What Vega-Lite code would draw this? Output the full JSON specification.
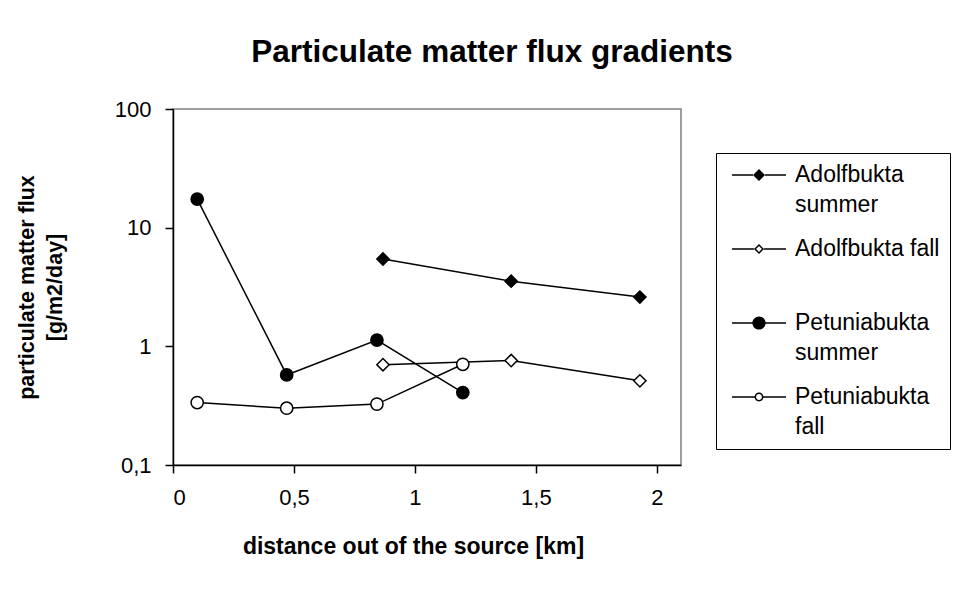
{
  "$schema": "https://vega.github.io/schema/vega-lite/v6.json",
  "width": 508,
  "height": 356,
  "autosize": {"type": "none"},
  "padding": {"left": 173, "top": 109, "right": 276, "bottom": 124},
  "background": "white",
  "title": {
    "text": "Particulate matter flux gradients",
    "fontSize": 31.5,
    "fontWeight": "bold",
    "font": "Liberation Sans",
    "color": "black",
    "anchor": "middle",
    "baseline": "alphabetic",
    "offset": 5,
    "dx": 65
  },
  "config": {
    "font": "Liberation Sans",
    "view": {"stroke": "#808080", "strokeWidth": 1.5},
    "style": {"guide-label": {"lineHeight": 30}},
    "axis": {
      "grid": false,
      "domainColor": "black",
      "domainWidth": 1.5,
      "tickColor": "black",
      "tickWidth": 1.5,
      "tickSize": 8,
      "labelFont": "Liberation Sans",
      "labelFontSize": 22,
      "labelColor": "black",
      "titleFont": "Liberation Sans",
      "titleFontWeight": "bold",
      "titleColor": "black"
    }
  },
  "data": {
    "values": [
      {"series": "Adolfbukta summer", "distance": 0.868, "flux": 5.45},
      {"series": "Adolfbukta summer", "distance": 1.398, "flux": 3.54},
      {"series": "Adolfbukta summer", "distance": 1.93, "flux": 2.6},
      {"series": "Adolfbukta fall", "distance": 0.868, "flux": 0.70},
      {"series": "Adolfbukta fall", "distance": 1.398, "flux": 0.759},
      {"series": "Adolfbukta fall", "distance": 1.93, "flux": 0.512},
      {"series": "Petuniabukta summer", "distance": 0.1, "flux": 17.4},
      {"series": "Petuniabukta summer", "distance": 0.47, "flux": 0.574},
      {"series": "Petuniabukta summer", "distance": 0.843, "flux": 1.13},
      {"series": "Petuniabukta summer", "distance": 1.198, "flux": 0.408},
      {"series": "Petuniabukta fall", "distance": 0.1, "flux": 0.336},
      {"series": "Petuniabukta fall", "distance": 0.47, "flux": 0.301},
      {"series": "Petuniabukta fall", "distance": 0.843, "flux": 0.326},
      {"series": "Petuniabukta fall", "distance": 1.198, "flux": 0.706}
    ]
  },
  "encoding": {
    "x": {
      "field": "distance",
      "type": "quantitative",
      "scale": {"domain": [0, 2.1], "nice": false, "zero": false},
      "axis": {
        "values": [0, 0.5, 1, 1.5, 2],
        "labelExpr": "replace(format(datum.value, '~g'), '.', ',')",
        "labelPadding": 14,
        "title": "distance out of the source [km]",
        "titleFontSize": 23,
        "titleX": 240,
        "titleAnchor": "middle",
        "titlePadding": 27
      }
    },
    "y": {
      "field": "flux",
      "type": "quantitative",
      "scale": {"type": "log", "domain": [0.1, 100], "nice": false},
      "axis": {
        "values": [0.1, 1, 10, 100],
        "labelExpr": "replace(format(datum.value, '~g'), '.', ',')",
        "labelPadding": 14,
        "title": ["particulate matter flux", "[g/m2/day]"],
        "titleFontSize": 21.5,
        "titleLineHeight": 28,
        "titlePadding": 48
      }
    }
  },
  "layer": [
    {
      "mark": {"type": "line", "color": "black", "strokeWidth": 1.5},
      "encoding": {"detail": {"field": "series"}, "order": {"field": "distance"}}
    },
    {
      "mark": {"type": "point", "filled": false, "stroke": "black", "strokeWidth": 1.5, "size": 150, "opacity": 1},
      "encoding": {
        "shape": {
          "condition": {"test": "indexof(datum.series, 'Adolf') >= 0", "value": "diamond"},
          "value": "circle"
        },
        "fill": {
          "condition": {"test": "indexof(datum.series, 'summer') >= 0", "value": "black"},
          "value": "white"
        }
      }
    },
    {
      "mark": {"type": "point", "filled": true, "color": "black", "opacity": 0, "size": 576},
      "encoding": {
        "shape": {
          "field": "series",
          "type": "nominal",
          "scale": {
            "domain": ["Adolfbukta summer", "Adolfbukta fall", "Petuniabukta summer", "Petuniabukta fall"],
            "range": [
              "M-0.5,-0.0625H1.25V0.0625H-0.5Z M2.25,-0.0625H4V0.0625H2.25Z M1.75,-0.5L2.25,0L1.75,0.5L1.25,0Z",
              "M-0.5,-0.0625H1.33V0.0625H-0.5Z M2.17,-0.0625H4V0.0625H2.17Z M1.75,-0.42L2.17,0L1.75,0.42L1.33,0Z M1.75,-0.24L1.51,0L1.75,0.24L1.99,0Z",
              "M-0.5,-0.0625H1.25V0.0625H-0.5Z M2.25,-0.0625H4V0.0625H2.25Z M2.3,0A0.55,0.55,0,1,1,1.2,0A0.55,0.55,0,1,1,2.3,0Z",
              "M-0.5,-0.0625H1.4V0.0625H-0.5Z M2.1,-0.0625H4V0.0625H2.1Z M2.12,0A0.37,0.37,0,1,1,1.38,0A0.37,0.37,0,1,1,2.12,0Z M1.995,0A0.245,0.245,0,1,0,1.505,0A0.245,0.245,0,1,0,1.995,0Z"
            ]
          },
          "legend": {
            "title": null,
            "orient": "none",
            "legendX": 543,
            "legendY": 44,
            "padding": 10,
            "strokeColor": "black",
            "fillColor": "white",
            "symbolOpacity": 1,
            "symbolSize": 576,
            "symbolFillColor": "black",
            "symbolStrokeWidth": 0,
            "labelFont": "Liberation Sans",
            "labelFontSize": 23,
            "labelColor": "black",
            "labelLimit": 400,
            "labelOffset": 45,
            "labelBaseline": "middle",
            "rowPadding": 20,
            "labelExpr": "datum.label == 'Adolfbukta summer' ? ['Adolfbukta', 'summer'] : datum.label == 'Adolfbukta fall' ? ['Adolfbukta fall', ' '] : datum.label == 'Petuniabukta summer' ? ['Petuniabukta', 'summer'] : ['Petuniabukta', 'fall']"
          }
        }
      }
    }
  ]
}
